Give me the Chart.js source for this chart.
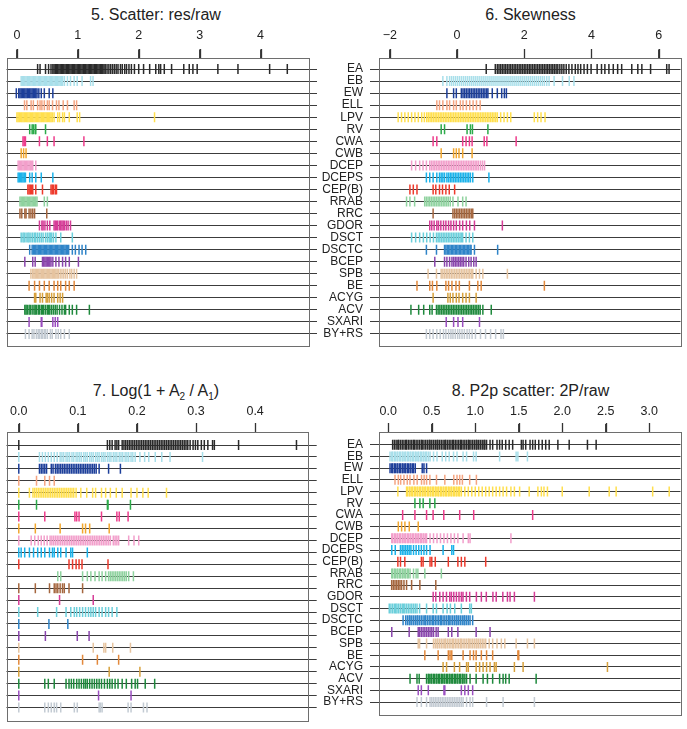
<!DOCTYPE html>
<html>
<head>
<meta charset="utf-8">
<script src="https://cdn.jsdelivr.net/npm/chart.js@4.4.1/dist/chart.umd.min.js"></script>
<style>
body { margin: 0; background: #fff; font-family: "Liberation Sans", Arial, sans-serif; }
canvas { position: absolute; }
.title { position: absolute; font-size: 16px; line-height: 18px; color: #222; text-align: center; white-space: nowrap; }
.title sub { font-size: 10px; line-height: 0; }
</style>
</head>
<body>
<div class="title" style="left:0;top:6px;width:312px">5. Scatter: res/raw</div>
<div class="title" style="left:379px;top:6px;width:303px">6. Skewness</div>
<div class="title" style="left:0;top:382px;width:312px">7. Log(1 + A<sub>2</sub> / A<sub>1</sub>)</div>
<div class="title" style="left:379px;top:382px;width:303px">8. P2p scatter: 2P/raw</div>

<canvas id="c5" width="335" height="360" style="left:0;top:0"></canvas>
<canvas id="c6" width="397" height="360" style="left:290px;top:0"></canvas>
<canvas id="c7" width="335" height="354" style="left:0;top:375px"></canvas>
<canvas id="c8" width="397" height="354" style="left:290px;top:375px"></canvas>

<script>
const classes = ["EA","EB","EW","ELL","LPV","RV","CWA","CWB","DCEP","DCEPS","CEP(B)","RRAB","RRC","GDOR","DSCT","DSCTC","BCEP","SPB","BE","ACYG","ACV","SXARI","BY+RS"];
const classColors = ["#2a2a2a","#a8dfea","#1d3f9a","#f5a582","#ffdf4d","#2cab4a","#ee3c8c","#f2a72e","#f29fcb","#1ab2ea","#ee3a2c","#8fd29f","#a5673f","#d63d98","#6ccfdb","#2f84c8","#8a46ad","#e6c4a0","#e3893c","#d7a13c","#1f8a3d","#9b4fc0","#c3cbd3"];

// 5. Scatter: res/raw  (one list per class, same order as classes)
const resRaw = [
  [0.34,0.38,0.47,0.52,0.56,0.59,0.61,0.63,0.65,0.67,0.69,0.71,0.73,0.75,0.77,0.79,0.81,0.83,0.85,0.87,0.89,0.91,0.93,0.95,0.97,0.99,1.01,1.03,1.05,1.07,1.09,1.11,1.13,1.15,1.17,1.19,1.21,1.23,1.25,1.27,1.29,1.31,1.33,1.35,1.37,1.39,1.41,1.43,1.45,1.48,1.51,1.54,1.57,1.6,1.63,1.66,1.7,1.73,1.77,1.8,1.84,1.88,1.93,2.0,2.08,2.18,2.28,2.33,2.36,2.42,2.54,2.74,2.83,2.89,2.96,3.3,3.63,4.15,4.44],
  [0.07,0.09,0.11,0.13,0.15,0.17,0.19,0.21,0.23,0.25,0.27,0.29,0.31,0.33,0.35,0.37,0.39,0.41,0.43,0.45,0.47,0.49,0.51,0.53,0.55,0.57,0.59,0.61,0.63,0.65,0.67,0.69,0.71,0.73,0.75,0.78,0.83,0.88,0.94,0.99,1.07,1.21,1.25],
  [-0.01,0.03,0.05,0.07,0.09,0.11,0.13,0.15,0.17,0.19,0.21,0.23,0.25,0.27,0.29,0.31,0.33,0.36,0.4,0.45,0.53,0.59],
  [0.125,0.163,0.233,0.27,0.34,0.38,0.41,0.45,0.5,0.53,0.585,0.65,0.69,0.76,0.83,0.94,0.98],
  [0,0.02,0.04,0.06,0.08,0.1,0.12,0.14,0.16,0.18,0.2,0.22,0.24,0.26,0.28,0.3,0.32,0.34,0.36,0.38,0.4,0.42,0.44,0.46,0.48,0.5,0.52,0.54,0.56,0.58,0.61,0.67,0.7,0.75,0.78,0.86,0.99,1.03,2.26],
  [0.21,0.25,0.27,0.3,0.31,0.47],
  [0.1,0.12,0.14,0.37,0.5,0.61,1.1],
  [0.07,0.11,0.15],
  [0.02,0.04,0.06,0.08,0.1,0.12,0.14,0.16,0.18,0.2,0.22,0.24,0.26,0.31],
  [0.02,0.04,0.06,0.08,0.1,0.12,0.14,0.21,0.25,0.31,0.4,0.59],
  [0.18,0.2,0.22,0.24,0.26,0.31,0.42,0.56,0.58,0.6,0.63,0.65],
  [0.05,0.07,0.09,0.11,0.13,0.15,0.17,0.19,0.21,0.23,0.25,0.27,0.29,0.31,0.33,0.45,0.5],
  [0.05,0.08,0.13,0.15,0.2,0.23,0.26,0.29,0.49],
  [0.37,0.41,0.43,0.46,0.5,0.54,0.61,0.63,0.65,0.67,0.7,0.72,0.74,0.76,0.78,0.81,0.84,0.88],
  [0.07,0.1,0.12,0.15,0.18,0.2,0.23,0.26,0.29,0.31,0.34,0.37,0.4,0.43,0.47,0.5,0.53,0.55,0.57,0.6,0.64,0.72,0.91],
  [0.21,0.25,0.27,0.29,0.31,0.33,0.35,0.37,0.39,0.41,0.43,0.45,0.47,0.49,0.51,0.53,0.55,0.57,0.59,0.61,0.63,0.65,0.67,0.69,0.71,0.73,0.75,0.77,0.79,0.81,0.83,0.85,0.91,0.96,1.02,1.07,1.13],
  [0.13,0.26,0.3,0.42,0.44,0.46,0.48,0.5,0.52,0.54,0.56,0.59,0.64,0.69,0.75,0.8,0.86,1.01],
  [0.23,0.26,0.28,0.3,0.32,0.34,0.36,0.38,0.4,0.42,0.44,0.46,0.48,0.5,0.52,0.54,0.56,0.58,0.6,0.62,0.64,0.66,0.68,0.71,0.74,0.77,0.8,0.83,0.87,0.9,0.94,0.98],
  [0.2,0.29,0.37,0.45,0.53,0.61,0.67,0.72,0.8,0.86,0.94],
  [0.29,0.31,0.38,0.42,0.48,0.5,0.53,0.57,0.61,0.67,0.71,0.75],
  [0.13,0.15,0.17,0.2,0.22,0.25,0.28,0.3,0.32,0.35,0.37,0.4,0.42,0.44,0.47,0.5,0.52,0.54,0.57,0.6,0.63,0.66,0.7,0.74,0.78,0.8,0.86,0.91,0.98,1.19],
  [0.2,0.4,0.41,0.59,0.63,0.67],
  [0.14,0.2,0.25,0.28,0.32,0.35,0.37,0.4,0.42,0.45,0.47,0.5,0.55,0.58,0.64,0.68,0.72,0.78,0.86]
];

// 6. Skewness
const skewness = [
  [0.87,1.14,1.2,1.25,1.3,1.35,1.4,1.45,1.5,1.55,1.6,1.65,1.7,1.75,1.8,1.85,1.9,1.95,2.0,2.05,2.1,2.15,2.2,2.25,2.3,2.35,2.4,2.45,2.5,2.55,2.6,2.65,2.7,2.75,2.8,2.85,2.9,2.95,3.0,3.06,3.12,3.18,3.25,3.33,3.42,3.52,3.6,3.68,3.78,3.88,3.99,4.17,4.3,4.4,4.52,4.65,4.78,4.9,5.2,5.38,5.5,5.76,6.24,6.31],
  [-0.42,-0.3,-0.22,-0.16,-0.1,-0.04,0.02,0.08,0.14,0.2,0.26,0.32,0.38,0.44,0.5,0.56,0.62,0.68,0.74,0.8,0.86,0.92,0.98,1.04,1.1,1.16,1.22,1.28,1.34,1.4,1.46,1.52,1.58,1.64,1.7,1.76,1.82,1.88,1.94,2.0,2.06,2.12,2.18,2.24,2.3,2.36,2.42,2.48,2.54,2.6,2.67,2.74,2.89,3.14,3.34,3.48],
  [-0.3,-0.1,-0.02,0.13,0.18,0.23,0.28,0.33,0.38,0.43,0.48,0.53,0.58,0.63,0.68,0.73,0.78,0.83,0.88,0.92,1.05,1.2,1.33,1.41,1.47],
  [-0.6,-0.52,-0.42,-0.3,-0.22,-0.1,-0.02,0.1,0.18,0.28,0.38,0.48,0.58,0.69],
  [-1.75,-1.65,-1.55,-1.45,-1.35,-1.25,-1.15,-1.05,-0.97,-0.9,-0.85,-0.8,-0.75,-0.7,-0.65,-0.6,-0.55,-0.5,-0.45,-0.4,-0.35,-0.3,-0.25,-0.2,-0.15,-0.1,-0.05,0,0.05,0.1,0.15,0.2,0.25,0.3,0.35,0.4,0.45,0.5,0.55,0.6,0.65,0.7,0.75,0.8,0.85,0.9,0.95,1.0,1.05,1.1,1.15,1.2,1.3,1.4,1.5,1.6,2.3,2.4,2.5,2.62],
  [-0.47,-0.37,0.3,0.4,0.46,0.92],
  [-0.71,-0.6,0.17,0.27,0.37,0.45,0.81,0.89,1.76],
  [-0.47,-0.1,-0.02,0.06,0.17,0.45],
  [-1.35,-1.23,-1.11,-1.01,-0.91,-0.81,-0.76,-0.71,-0.66,-0.61,-0.56,-0.51,-0.46,-0.41,-0.36,-0.31,-0.26,-0.21,-0.16,-0.11,-0.06,-0.01,0.04,0.09,0.14,0.19,0.24,0.29,0.34,0.39,0.44,0.49,0.54,0.59,0.64,0.7,0.76,0.82],
  [-0.91,-0.81,-0.71,-0.6,-0.52,-0.47,-0.42,-0.37,-0.3,-0.25,-0.2,-0.15,-0.1,-0.05,0,0.05,0.1,0.15,0.2,0.25,0.3,0.35,0.4,0.47,0.95],
  [-1.4,-1.3,-1.19,-0.71,-0.63,-0.52,-0.43,-0.33,-0.23,-0.07],
  [-1.5,-1.4,-1.26,-0.96,-0.91,-0.86,-0.81,-0.76,-0.71,-0.66,-0.61,-0.56,-0.51,-0.46,-0.41,-0.36,-0.31,-0.26,-0.2,-0.12,0.03,0.17,0.27],
  [-0.71,-0.12,-0.07,-0.02,0.03,0.08,0.13,0.18,0.23,0.28,0.33,0.38,0.43,0.47],
  [-0.81,-0.75,-0.68,-0.6,-0.55,-0.48,-0.4,-0.33,-0.25,-0.18,-0.1,-0.02,0.08,0.17,0.28,0.38,0.52,1.35],
  [-1.35,-1.23,-1.11,-1.0,-0.9,-0.8,-0.7,-0.61,-0.56,-0.51,-0.46,-0.41,-0.36,-0.31,-0.26,-0.21,-0.16,-0.11,-0.06,-0.01,0.04,0.09,0.13,0.17,0.27,0.37,0.47],
  [-0.91,-0.61,-0.37,-0.33,-0.29,-0.25,-0.21,-0.17,-0.13,-0.09,-0.05,-0.01,0.03,0.07,0.11,0.15,0.19,0.23,0.27,0.31,0.35,0.39,0.42,0.52,1.21],
  [-0.66,-0.37,-0.3,-0.22,-0.15,-0.1,-0.05,0,0.05,0.1,0.15,0.2,0.27,0.35,0.42,0.5,0.57],
  [-0.86,-0.61,-0.47,-0.42,-0.37,-0.32,-0.27,-0.22,-0.17,-0.12,-0.07,-0.02,0.03,0.08,0.13,0.18,0.23,0.28,0.33,0.38,0.43,0.47,0.57,0.67,0.77,1.5],
  [-1.19,-0.81,-0.73,-0.6,-0.33,-0.25,-0.15,-0.03,0.07,0.37,0.62,0.72,2.6],
  [-0.71,-0.27,-0.2,-0.12,-0.02,0.06,0.17,0.27,0.37,0.57],
  [-1.37,-1.14,-0.99,-0.81,-0.74,-0.61,-0.56,-0.51,-0.46,-0.41,-0.36,-0.31,-0.26,-0.21,-0.16,-0.11,-0.06,-0.01,0.04,0.09,0.14,0.19,0.24,0.29,0.34,0.39,0.44,0.49,0.54,0.59,0.64,0.69,0.77,1.02],
  [-0.32,-0.1,0.03,0.17,0.67],
  [-0.91,-0.81,-0.71,-0.6,-0.5,-0.4,-0.33,-0.25,-0.18,-0.12,-0.05,0.02,0.08,0.15,0.22,0.3,0.37,0.45,0.55,0.7,0.85,1.0,1.15,1.31,1.38]
];

// 7. Log(1 + A2/A1)
const logAmp = [
  [0,0.15,0.154,0.158,0.163,0.166,0.169,0.175,0.178,0.181,0.184,0.187,0.19,0.193,0.196,0.199,0.202,0.205,0.208,0.211,0.214,0.217,0.22,0.223,0.226,0.229,0.232,0.235,0.238,0.241,0.244,0.247,0.25,0.253,0.256,0.259,0.262,0.265,0.268,0.271,0.274,0.277,0.28,0.283,0.286,0.29,0.295,0.299,0.303,0.309,0.314,0.32,0.328,0.331,0.372,0.47],
  [0,0.035,0.04,0.045,0.05,0.055,0.06,0.065,0.07,0.073,0.076,0.08,0.083,0.086,0.09,0.093,0.097,0.1,0.103,0.106,0.11,0.113,0.116,0.12,0.123,0.126,0.13,0.133,0.136,0.14,0.143,0.146,0.15,0.153,0.156,0.16,0.163,0.166,0.17,0.173,0.176,0.18,0.183,0.186,0.19,0.193,0.197,0.205,0.213,0.22,0.231,0.242,0.256,0.311],
  [0,0.035,0.038,0.041,0.044,0.047,0.055,0.058,0.062,0.065,0.068,0.071,0.074,0.077,0.08,0.083,0.086,0.089,0.092,0.095,0.098,0.101,0.104,0.107,0.11,0.113,0.116,0.119,0.122,0.125,0.128,0.131,0.136,0.152,0.172],
  [0,0.03,0.044,0.052,0.06],
  [0,0.018,0.024,0.027,0.03,0.033,0.036,0.039,0.042,0.045,0.048,0.051,0.054,0.057,0.06,0.063,0.066,0.069,0.072,0.075,0.078,0.081,0.084,0.087,0.09,0.093,0.097,0.105,0.115,0.125,0.13,0.14,0.147,0.155,0.165,0.175,0.19,0.2,0.21,0.219,0.25],
  [0,0.03,0.15,0.151,0.189],
  [0,0.044,0.095,0.098,0.102,0.14,0.166,0.17,0.185],
  [0,0.028,0.07,0.108,0.113,0.12,0.153],
  [0,0.021,0.027,0.033,0.038,0.043,0.048,0.053,0.056,0.059,0.062,0.065,0.068,0.071,0.074,0.077,0.08,0.083,0.086,0.089,0.092,0.095,0.098,0.101,0.104,0.107,0.11,0.113,0.116,0.119,0.122,0.125,0.128,0.131,0.134,0.137,0.14,0.143,0.146,0.149,0.152,0.155,0.16,0.163,0.166,0.169,0.186,0.195,0.203],
  [0,0.004,0.01,0.018,0.025,0.032,0.038,0.044,0.052,0.057,0.06,0.066,0.071,0.08,0.088,0.091,0.116],
  [0,0.085,0.091,0.097,0.102,0.107,0.151],
  [0.066,0.071,0.108,0.116,0.122,0.129,0.136,0.141,0.147,0.152,0.155,0.158,0.161,0.164,0.167,0.17,0.173,0.176,0.179,0.182,0.186,0.194],
  [0,0.028,0.052,0.06,0.063,0.066,0.07,0.074,0.077,0.085,0.108],
  [0,0.069,0.126],
  [0,0.032,0.064,0.08,0.088,0.094,0.098,0.103,0.108,0.113,0.118,0.122,0.126,0.13,0.136,0.141,0.147,0.152,0.158,0.166],
  [0,0.051,0.083],
  [0,0.045,0.099,0.119],
  [0,0.126,0.144,0.147,0.159,0.189],
  [0,0.108,0.133,0.169],
  [0,0.153,0.205],
  [0,0.044,0.05,0.06,0.08,0.085,0.089,0.093,0.098,0.102,0.106,0.11,0.113,0.116,0.12,0.124,0.128,0.132,0.136,0.14,0.145,0.15,0.154,0.158,0.163,0.168,0.175,0.182,0.191,0.197,0.201,0.214,0.23],
  [0,0.135,0.19],
  [0,0.044,0.05,0.055,0.06,0.064,0.071,0.094,0.099,0.136,0.138,0.141,0.185,0.19,0.211,0.217]
];

// 8. P2p scatter: 2P/raw
const p2pScatter = [
  [0.05,0.07,0.09,0.11,0.12,0.14,0.16,0.18,0.2,0.21,0.23,0.25,0.27,0.29,0.3,0.32,0.34,0.36,0.38,0.39,0.41,0.43,0.45,0.47,0.48,0.5,0.52,0.54,0.56,0.57,0.59,0.61,0.63,0.65,0.66,0.68,0.7,0.72,0.74,0.75,0.77,0.79,0.81,0.83,0.84,0.86,0.88,0.9,0.92,0.93,0.95,0.97,0.99,1.01,1.02,1.04,1.06,1.08,1.1,1.11,1.13,1.17,1.2,1.25,1.28,1.31,1.35,1.39,1.43,1.53,1.55,1.58,1.63,1.66,1.69,1.73,1.77,1.81,1.85,1.95,2.08,2.29,2.39],
  [0.02,0.04,0.05,0.07,0.08,0.1,0.11,0.13,0.14,0.16,0.17,0.19,0.2,0.22,0.23,0.25,0.26,0.28,0.29,0.31,0.32,0.34,0.35,0.37,0.38,0.4,0.41,0.43,0.44,0.46,0.48,0.52,0.56,0.62,0.66,0.7,0.75,0.79,0.86,0.9,0.98,1.01,1.28,1.47,1.49,1.6],
  [0.02,0.04,0.05,0.07,0.08,0.1,0.11,0.13,0.14,0.16,0.17,0.19,0.2,0.22,0.23,0.25,0.26,0.28,0.29,0.31,0.39,0.41,0.44],
  [0.077,0.115,0.142,0.18,0.218,0.249,0.294,0.332,0.382,0.412,0.44,0.478,0.554,0.65,0.753,0.79,0.821,0.852,0.936,1.013],
  [0.11,0.21,0.22,0.24,0.25,0.27,0.28,0.3,0.31,0.33,0.34,0.36,0.37,0.39,0.4,0.42,0.43,0.45,0.46,0.48,0.49,0.51,0.52,0.54,0.55,0.57,0.58,0.6,0.61,0.63,0.64,0.66,0.67,0.69,0.7,0.72,0.73,0.75,0.76,0.78,0.79,0.81,0.82,0.84,0.88,0.92,0.96,1.0,1.04,1.08,1.12,1.16,1.2,1.24,1.28,1.32,1.36,1.41,1.45,1.51,1.62,1.72,1.76,1.79,1.83,2.0,2.31,2.54,2.62,3.04,3.23],
  [0.306,0.363,0.401,0.478,0.535],
  [0.165,0.306,0.44,0.515,0.638,0.821,0.982,1.66],
  [0.115,0.153,0.191,0.241,0.344],
  [0.04,0.05,0.07,0.08,0.1,0.11,0.13,0.14,0.16,0.17,0.19,0.2,0.22,0.23,0.25,0.26,0.28,0.29,0.31,0.32,0.34,0.35,0.37,0.38,0.4,0.41,0.43,0.44,0.48,0.52,0.56,0.6,0.64,0.68,0.72,0.76,0.8,0.86,0.92,0.94,1.41],
  [0.04,0.08,0.14,0.16,0.18,0.2,0.22,0.24,0.26,0.29,0.32,0.35,0.38,0.41,0.44,0.48,0.63,0.73,0.75],
  [0.11,0.14,0.19,0.38,0.4,0.48,0.5,0.54,0.69,0.8,0.84,0.88,1.12],
  [0.04,0.05,0.07,0.08,0.1,0.11,0.13,0.14,0.16,0.17,0.19,0.2,0.22,0.23,0.25,0.29,0.32,0.34,0.42,0.61],
  [0.039,0.058,0.077,0.096,0.115,0.134,0.153,0.18,0.21,0.268,0.363,0.546],
  [0.516,0.546,0.592,0.63,0.669,0.707,0.726,0.753,0.783,0.813,0.84,0.859,0.898,0.936,1.013,1.07,1.127,1.203,1.241,1.317,1.37,1.4,1.45,1.68],
  [0.011,0.03,0.05,0.07,0.085,0.1,0.12,0.14,0.16,0.175,0.19,0.21,0.23,0.25,0.27,0.29,0.31,0.33,0.36,0.44,0.516,0.554,0.63,0.676,0.714,0.764,0.84,0.936,0.955],
  [0.17,0.2,0.22,0.24,0.25,0.27,0.29,0.31,0.33,0.34,0.36,0.38,0.4,0.42,0.43,0.45,0.47,0.49,0.51,0.52,0.54,0.56,0.58,0.6,0.61,0.63,0.65,0.67,0.69,0.7,0.72,0.74,0.76,0.78,0.79,0.81,0.83,0.85,0.87,0.88,0.9,0.92,0.94,0.97],
  [0.04,0.24,0.344,0.36,0.38,0.4,0.42,0.44,0.46,0.48,0.5,0.52,0.55,0.573,0.69,0.73,0.8,1.01,1.17],
  [0.344,0.36,0.44,0.52,0.54,0.56,0.57,0.59,0.61,0.63,0.65,0.66,0.68,0.7,0.72,0.74,0.75,0.77,0.79,0.81,0.83,0.84,0.86,0.88,0.9,0.92,0.93,0.95,0.97,0.99,1.01,1.02,1.04,1.06,1.08,1.1,1.12,1.16,1.2,1.25,1.3,1.34,1.47,1.6,1.68],
  [0.42,0.573,0.69,0.71,0.73,0.86,0.94,0.98,1.01,1.07,1.13,1.2,1.49,1.5],
  [0.63,0.67,0.76,0.82,0.9,0.92,1.01,1.05,1.09,1.13,1.17,1.22,1.24,1.45,1.55,2.52],
  [0.25,0.33,0.355,0.44,0.46,0.47,0.49,0.5,0.52,0.53,0.55,0.56,0.58,0.59,0.61,0.62,0.64,0.65,0.67,0.68,0.7,0.71,0.73,0.74,0.76,0.77,0.79,0.8,0.82,0.83,0.85,0.86,0.88,0.9,0.94,1.01,1.09,1.14,1.2,1.28,1.32,1.35,1.39,1.7],
  [0.344,0.38,0.46,0.64,0.65,0.84,0.88,0.92,0.97],
  [0.33,0.38,0.44,0.48,0.5,0.52,0.54,0.56,0.58,0.6,0.62,0.64,0.66,0.68,0.7,0.72,0.74,0.76,0.78,0.8,0.82,0.84,0.86,0.9,0.94,0.97,1.13,1.32,1.68]
];

const ticks5 = [0, 1, 2, 3, 4];
const ticks6 = [-2, 0, 2, 4, 6];
const ticks7 = [0, 0.1, 0.2, 0.3, 0.4];
const ticks8 = [0, 0.5, 1, 1.5, 2, 2.5, 3];

Chart.defaults.font.family = "'Liberation Sans', Arial, sans-serif";

// box round the plot area, plus the short x tick marks above it
const frame = {
    id: "frame",
    afterDraw(chart) {
        const a = chart.chartArea, ctx = chart.ctx, xs = chart.scales.x;
        ctx.save();
        ctx.lineWidth = 1.3;
        ctx.strokeStyle = "#333";
        ctx.beginPath();
        xs.ticks.forEach(t => {
            const px = Math.round(xs.getPixelForValue(t.value)) + 0.5;
            ctx.moveTo(px, Math.round(a.top) - 9);
            ctx.lineTo(px, Math.round(a.top));
        });
        ctx.stroke();
        ctx.lineWidth = 1;
        ctx.strokeStyle = "#6e6e6e";
        ctx.strokeRect(Math.round(a.left) + 0.5, Math.round(a.top) + 0.5, Math.round(a.right - a.left), Math.round(a.bottom - a.top));
        ctx.restore();
    }
};

function rugSets(rows) {
    return rows.map((vals, i) => ({
        label: classes[i],
        data: vals.map(v => ({ x: v, y: i })),
        pointStyle: "line",
        rotation: 90,
        pointRadius: 5,
        pointBorderWidth: 1.5,
        pointBorderColor: classColors[i],
        pointBackgroundColor: classColors[i],
        showLine: false
    }));
}

function rugChart(id, rows, o) {
    const labelsLeft = o.side === "left";
    return new Chart(document.getElementById(id), {
        type: "scatter",
        data: { datasets: rugSets(rows) },
        plugins: [frame],
        options: {
            responsive: false,
            animation: false,
            events: [],
            layout: { padding: o.padding },
            plugins: { legend: { display: false }, tooltip: { enabled: false } },
            scales: {
                x: {
                    position: "top",
                    min: o.xMin, max: o.xMax,
                    afterBuildTicks: s => { s.ticks = o.xTicks.map(v => ({ value: v })); },
                    afterFit: s => { s.height = o.axisH; },
                    grid: { drawOnChartArea: false, drawTicks: true, tickLength: 8, color: "#444" },
                    border: { display: false },
                    ticks: { padding: o.tickPad, color: "#222", maxRotation: 0, autoSkip: false, font: { size: 12.5 }, callback: o.fmt }
                },
                y: {
                    position: o.side,
                    reverse: true,
                    min: -o.pad, max: 22 + o.pad,
                    afterBuildTicks: s => { s.ticks = classes.map((c, i) => ({ value: i })); },
                    afterFit: s => { s.width = o.yW; },
                    grid: { color: "#3c3c3c", lineWidth: 1, drawTicks: true, tickLength: 9 },
                    border: { display: false },
                    ticks: { display: labelsLeft, padding: 7, color: "#222", autoSkip: false, font: { size: 12 }, callback: v => classes[v] }
                }
            }
        }
    });
}

const fmtInt = v => v < 0 ? "\u2212" + Math.abs(v) : String(v);
const fmt1 = v => v.toFixed(1);

rugChart("c5", resRaw, { xMin: -0.171, xMax: 4.78, xTicks: ticks5, fmt: fmtInt, side: "right", yW: 10, axisH: 57.5, tickPad: 6, pad: 0.96, padding: { left: 3.5, right: 17, top: 0, bottom: 14.5 } });
rugChart("c6", skewness, { xMin: -2.32, xMax: 6.65, xTicks: ticks6, fmt: fmtInt, side: "left", yW: 89, axisH: 57.5, tickPad: 6, pad: 0.96, padding: { left: 0, right: 5, top: 0, bottom: 14.5 } });
rugChart("c7", logAmp, { xMin: -0.0208, xMax: 0.489, xTicks: ticks7, fmt: fmt1, side: "right", yW: 10, axisH: 57, tickPad: 5, pad: 1.09, padding: { left: 3.3, right: 17.3, top: 0, bottom: 8.5 } });
rugChart("c8", p2pScatter, { xMin: -0.107, xMax: 3.36, xTicks: ticks8, fmt: fmt1, side: "left", yW: 89, axisH: 57, tickPad: 5, pad: 1.09, padding: { left: 0, right: 5, top: 0, bottom: 8.5 } });
</script>
</body>
</html>
